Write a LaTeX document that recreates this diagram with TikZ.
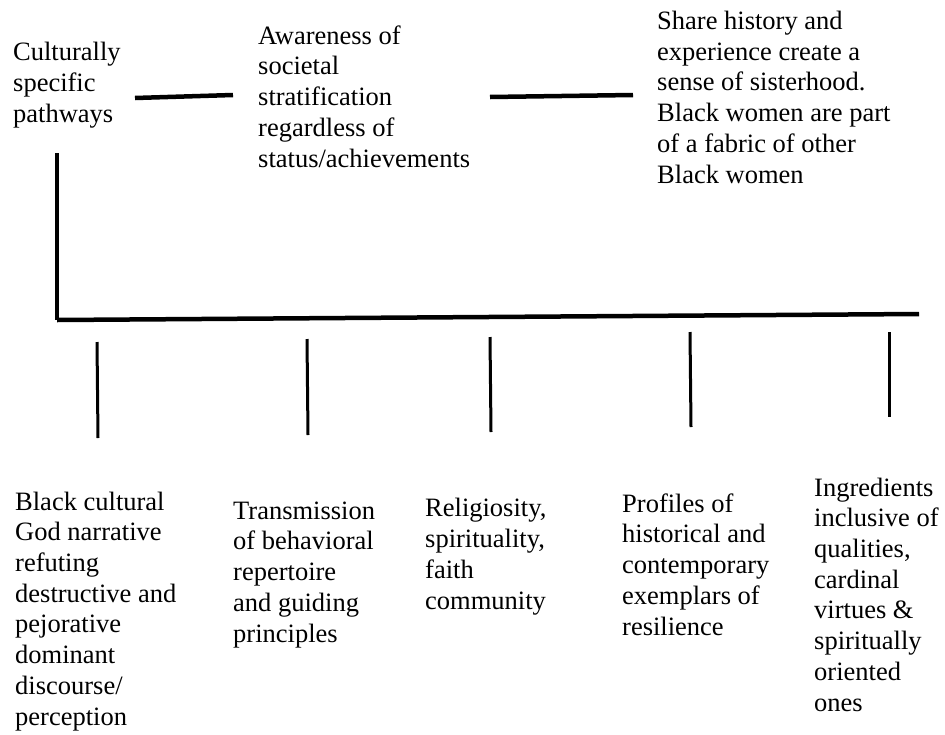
\documentclass[tikz,border=0pt]{standalone}
\usepackage{fontspec}
\setmainfont{Liberation Serif}

\begin{document}
\begin{tikzpicture}[x=1pt, y=-1pt,
                lbl/.style={anchor=base west, align=left, inner sep=0pt, font=\fontsize{26.5}{30.7}\selectfont},
                bar/.style={line width=4.5pt},
                tick/.style={line width=3pt}]
                \useasboundingbox (0, 0) rectangle (945, 734);
                % Nodes (placed at the baseline of their last line) and lines:
                \node[lbl] (cult) at (13, 122) {Culturally\\specific\\pathways};
                \node[lbl] (aware) at (258, 167) {Awareness of\\societal\\stratification\\regardless of\\status/achievements};
                \node[lbl] (share) at (657, 183) {Share history and\\experience create a\\sense of sisterhood.\\Black women are part\\of a fabric of other\\Black women};
                \node[lbl] (narr) at (15, 725) {Black cultural\\God narrative\\refuting\\destructive and\\pejorative\\dominant\\discourse/\\perception};
                \node[lbl] (trans) at (233, 642) {Transmission\\of behavioral\\repertoire\\and guiding\\principles};
                \node[lbl] (relig) at (425, 609) {Religiosity,\\spirituality,\\faith\\community};
                \node[lbl] (prof) at (622, 635) {Profiles of\\historical and\\contemporary\\exemplars of\\resilience};
                \node[lbl] (ingr) at (814, 711) {Ingredients\\inclusive of\\qualities,\\cardinal\\virtues \&\\spiritually\\oriented\\ones};
                \coordinate (top) at (57, 153);
                \coordinate (corner) at (57, 320);
                \coordinate (end) at (919, 314);
                \draw[line width=3.5pt] (top) -- (corner);
                \draw[bar] (corner) -- (end);
                \draw[bar] (135, 98) -- (233, 95);
                \draw[bar] (490, 97) -- (633, 95);
                \draw[tick] (97, 342) -- (98, 438);
                \draw[tick] (307, 339) -- (308, 435);
                \draw[tick] (490, 337) -- (491, 432);
                \draw[tick] (690, 332) -- (691, 427);
                \draw[tick] (889, 332) -- (889, 417);
\end{tikzpicture}
\end{document}
